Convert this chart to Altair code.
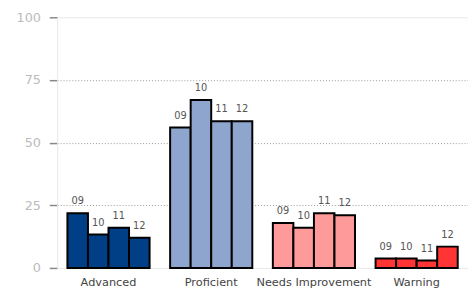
import altair as alt
import pandas as pd

categories = ["Advanced", "Proficient", "Needs Improvement", "Warning"]
years = ["09", "10", "11", "12"]
advanced = [21.8, 13.3, 16.0, 12.0]
proficient = [56.0, 67.0, 58.5, 58.5]
needs = [17.9, 16.0, 21.8, 21.0]
warning = [3.8, 3.8, 3.0, 8.5]
colors = ["#003F86", "#8EA6CE", "#FF9A9A", "#FF3535"]

rows = []
for cat, vals in zip(categories, [advanced, proficient, needs, warning]):
    for yr, v in zip(years, vals):
        rows.append({"category": cat, "year": yr, "value": v})
df = pd.DataFrame(rows)

x = alt.X("category:N", sort=categories, title=None,
          scale=alt.Scale(paddingInner=0.2, paddingOuter=0.1),
          axis=alt.Axis(labelAngle=0, ticks=False, domain=False, labelFont="DejaVu Sans",
                        labelFontSize=11.5, labelColor="#444", labelPadding=9))
xo = alt.XOffset("year:N", sort=years, scale=alt.Scale(paddingInner=0, paddingOuter=0))
y = alt.Y("value:Q", title=None, scale=alt.Scale(domain=[0, 100], nice=False),
          axis=alt.Axis(values=[0, 25, 50, 75, 100], labelFont="DejaVu Sans", labelFontSize=13,
                        labelColor="#bbbbbb", tickColor="#888888", tickSize=8, tickWidth=1.5,
                        labelPadding=9, domainColor="#e8e8e8",
                        gridColor=alt.condition("datum.value == 0 || datum.value == 100",
                                                alt.value("#e8e8e8"), alt.value("#999999")),
                        gridDash=alt.condition("datum.value == 0 || datum.value == 100",
                                               alt.value([]), alt.value([1, 2]))))

bars = alt.Chart(df).mark_bar(stroke="black", strokeWidth=2).encode(
    x=x, xOffset=xo, y=y,
    color=alt.Color("category:N", sort=categories, legend=None,
                    scale=alt.Scale(domain=categories, range=colors)),
)
labels = alt.Chart(df).mark_text(dy=-12, fontSize=10, font="DejaVu Sans", color="#555").encode(
    x=alt.X("category:N", sort=categories), xOffset=xo, y=alt.Y("value:Q"), text="year:N"
)

chart = (bars + labels).properties(
    width=418, height=255,
    autosize=alt.AutoSizeParams(type="none"),
    padding={"left": 50, "top": 7, "right": 0, "bottom": 20},
).configure_view(stroke=None)

chart.save("out.html", embed_options={"renderer": "svg", "actions": False})
